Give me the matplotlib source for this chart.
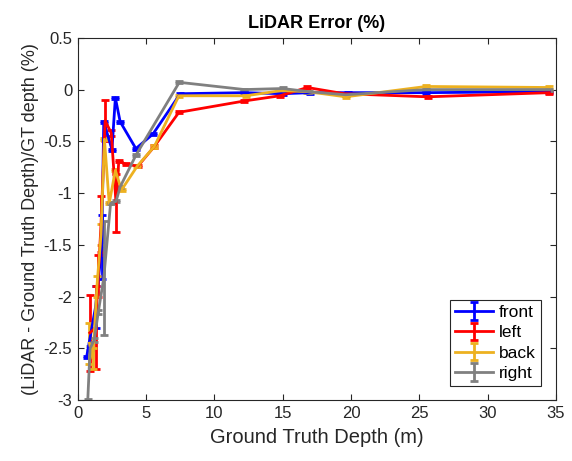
import numpy as np
import matplotlib
matplotlib.use('Agg')
import matplotlib.pyplot as plt

plt.rcParams['font.family'] = ['Liberation Sans', 'DejaVu Sans']
plt.rcParams['axes.unicode_minus'] = False

# front
front_x = [0.65, 1.3, 1.75, 1.9, 2.5, 2.75, 3.1, 4.25, 5.5, 7.5, 12.2, 15.0, 17.0, 19.8, 25.5, 34.5]
front_y = [-2.58, -2.1, -1.52, -0.31, -0.58, -0.08, -0.31, -0.57, -0.43, -0.04, -0.03, -0.04, -0.03, -0.03, -0.03, -0.02]
front_e = [0.01, 0.2, 0.31, 0.01, 0.01, 0.01, 0.01, 0.01, 0.01, 0.01, 0.01, 0.01, 0.01, 0.01, 0.01, 0.01]

# left
left_x = [0.88, 1.3, 1.5, 1.7, 2.0, 2.45, 2.8, 3.0, 3.5, 4.4, 5.6, 7.4, 12.2, 14.8, 16.8, 19.5, 25.6, 34.5]
left_y = [-2.35, -2.3, -1.8, -1.3, -0.3, -0.42, -1.1, -0.69, -0.72, -0.74, -0.55, -0.22, -0.11, -0.06, 0.02, -0.04, -0.07, -0.03]
left_e = [0.37, 0.4, 0.2, 0.27, 0.2, 0.03, 0.28, 0.01, 0.01, 0.01, 0.01, 0.01, 0.01, 0.01, 0.01, 0.01, 0.01, 0.01]

# back
back_x = [0.85, 1.1, 1.4, 1.7, 1.95, 2.3, 2.75, 3.2, 4.35, 5.6, 7.4, 12.3, 14.9, 16.8, 19.6, 25.5, 34.5]
back_y = [-2.45, -2.6, -1.9, -1.4, -0.48, -1.1, -0.78, -0.97, -0.74, -0.55, -0.06, -0.06, -0.01, -0.02, -0.07, 0.03, 0.02]
back_e = [0.2, 0.1, 0.1, 0.1, 0.01, 0.01, 0.01, 0.01, 0.01, 0.01, 0.01, 0.01, 0.01, 0.01, 0.01, 0.01, 0.01]

# right
right_x = [0.73, 0.9, 1.2, 1.5, 1.9, 2.4, 2.8, 3.1, 4.27, 7.43, 12.2, 15.0, 16.9, 19.6, 25.5, 34.5]
right_y = [-3.0, -2.5, -2.42, -2.15, -1.82, -1.1, -1.08, -0.94, -0.63, 0.07, 0.0, 0.01, -0.02, -0.05, 0.0, 0.0]
right_e = [0.01, 0.02, 0.02, 0.02, 0.55, 0.01, 0.01, 0.01, 0.01, 0.01, 0.01, 0.01, 0.01, 0.01, 0.01, 0.01]

series = [
    ('front', front_x, front_y, front_e, (0, 0, 1)),
    ('left', left_x, left_y, left_e, (1, 0, 0)),
    ('back', back_x, back_y, back_e, (0.929, 0.694, 0.125)),
    ('right', right_x, right_y, right_e, (0.5, 0.5, 0.5)),
]

fig = plt.figure(figsize=(5.72, 4.61), dpi=100)
ax = fig.add_axes([0.136, 0.132, 0.836, 0.786])

for name, x, y, e, col in series:
    ax.errorbar(x, y, yerr=e, color=col, lw=2, elinewidth=2, capsize=3,
                capthick=2, label=name)

ax.set_xlim(0, 35)
ax.set_ylim(-3, 0.5)
ax.set_xticks(np.arange(0, 36, 5))
ax.set_yticks(np.arange(-3, 0.51, 0.5))
ax.set_yticklabels(['-3', '-2.5', '-2', '-1.5', '-1', '-0.5', '0', '0.5'])
ax.tick_params(direction='in', top=True, right=True, labelsize=12, length=4,
               width=0.8, colors='#262626', pad=4)
for sp in ax.spines.values():
    sp.set_color('#262626')
    sp.set_linewidth(0.8)

ax.set_xlabel('Ground Truth Depth (m)', fontsize=14.5, color='#262626', labelpad=5)
ax.set_ylabel('(LiDAR - Ground Truth Depth)/GT depth (%)', fontsize=13,
              color='#262626', labelpad=3)
ax.set_title('LiDAR Error (%)', fontsize=13, fontweight='bold', pad=7)

leg = ax.legend(loc='lower right', bbox_to_anchor=(0.968, 0.038), fontsize=12.5,
                fancybox=False, edgecolor='#262626', framealpha=1,
                handlelength=2.2, handletextpad=0.3, borderpad=0.3,
                labelspacing=0.3, borderaxespad=0)
leg.get_frame().set_linewidth(0.8)

fig.savefig('out.png', dpi=100)
